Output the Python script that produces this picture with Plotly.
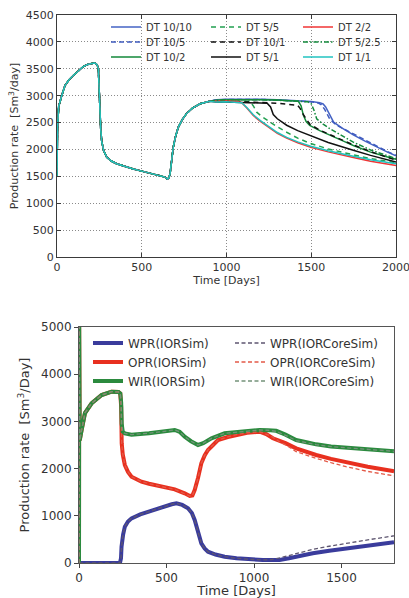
import plotly.graph_objects as go

W, H = 409, 598

# ---------------- Top chart data (time-step sensitivity) ----------------
t_early = [0, 3, 10, 20, 28, 47, 70, 96, 125, 155, 180, 204, 220, 230, 238, 244, 248, 252, 258, 264,
           275, 293, 320, 352, 400, 450, 500, 550, 600, 637, 651, 660, 667, 676, 686, 700, 716, 740,
           765, 800, 844, 900]
v_early = [1500, 2400, 2800, 2950, 3003, 3189, 3290, 3375, 3460, 3542, 3580, 3604, 3608, 3595, 3565,
           3499, 3100, 2700, 2380, 2150, 1980, 1857, 1785, 1734, 1680, 1638, 1597, 1560, 1520, 1486,
           1450, 1470, 1549, 1760, 2043, 2250, 2415, 2560, 2670, 2770, 2849, 2895]

t_dt10_10 = [940, 1000, 1100, 1200, 1300, 1400, 1500, 1550, 1570, 1585, 1600, 1632, 1680, 1748, 1820, 1886, 1950, 2000]
v_dt10_10 = [2925, 2935, 2940, 2935, 2925, 2910, 2890, 2870, 2845, 2790, 2700, 2508, 2400, 2270, 2150, 2043, 1950, 1880]

t_dt10_5 = [940, 1000, 1100, 1200, 1300, 1400, 1500, 1540, 1560, 1580, 1610, 1650, 1748, 1820, 1886, 1950, 2000]
v_dt10_5 = [2920, 2930, 2935, 2930, 2920, 2905, 2885, 2865, 2830, 2740, 2560, 2450, 2290, 2170, 2060, 1960, 1890]

t_dt10_2 = [940, 1000, 1100, 1200, 1300, 1400, 1424, 1440, 1453, 1470, 1491, 1550, 1611, 1700, 1748, 1850, 1950, 2000]
v_dt10_2 = [2915, 2925, 2930, 2925, 2920, 2905, 2895, 2810, 2640, 2520, 2446, 2350, 2260, 2140, 2074, 1950, 1860, 1815]

t_dt5_5 = [940, 1000, 1100, 1140, 1160, 1178, 1210, 1257, 1300, 1355, 1420, 1497, 1600, 1748, 1850, 2000]
v_dt5_5 = [2910, 2915, 2905, 2890, 2800, 2693, 2610, 2510, 2420, 2320, 2210, 2110, 2010, 1900, 1830, 1750]

t_dt10_1 = [940, 1000, 1100, 1200, 1300, 1350, 1420, 1435, 1453, 1491, 1550, 1611, 1700, 1748, 1850, 2000]
v_dt10_1 = [2890, 2890, 2885, 2875, 2860, 2845, 2820, 2760, 2650, 2470, 2360, 2275, 2150, 2085, 1960, 1800]

t_dt5_1 = [940, 1000, 1100, 1200, 1240, 1260, 1276, 1300, 1355, 1420, 1497, 1600, 1748, 1850, 2000]
v_dt5_1 = [2880, 2880, 2875, 2868, 2860, 2790, 2650, 2570, 2450, 2350, 2260, 2130, 1985, 1890, 1765]

t_dt2_2 = [940, 1000, 1060, 1090, 1120, 1158, 1200, 1257, 1300, 1355, 1420, 1497, 1600, 1748, 1850, 2000]
v_dt2_2 = [2900, 2905, 2895, 2870, 2770, 2630, 2520, 2385, 2300, 2210, 2125, 2040, 1955, 1850, 1780, 1700]

t_dt5_25 = [940, 1000, 1100, 1200, 1300, 1400, 1480, 1500, 1515, 1532, 1570, 1611, 1700, 1748, 1850, 2000]
v_dt5_25 = [2915, 2925, 2930, 2925, 2915, 2900, 2885, 2850, 2740, 2570, 2470, 2384, 2220, 2136, 1990, 1830]

t_dt1_1 = [940, 1000, 1060, 1090, 1120, 1158, 1200, 1257, 1300, 1355, 1420, 1497, 1600, 1748, 1850, 2000]
v_dt1_1 = [2880, 2885, 2880, 2870, 2780, 2645, 2535, 2400, 2315, 2225, 2140, 2060, 1975, 1875, 1810, 1735]

top_x_ticks = [0, 500, 1000, 1500, 2000]
top_y_ticks = [0, 500, 1000, 1500, 2000, 2500, 3000, 3500, 4000, 4500]

# ---------------- Bottom chart data (IORSim vs IORCoreSim) ----------------
wir_t = [0, 1, 4, 15, 34, 72, 129, 186, 205, 225, 236, 241, 244, 250, 262, 300, 400, 480, 547, 575,
         604, 640, 680, 710, 757, 832, 900, 960, 1032, 1080, 1127, 1180, 1241, 1300, 1355, 1440, 1526,
         1650, 1793, 1800]
wir_v = [0, 5000, 2600, 2818, 3178, 3383, 3559, 3630, 3635, 3625, 3590, 3400, 2950, 2780, 2747, 2720,
         2750, 2785, 2818, 2780, 2676, 2580, 2500, 2540, 2641, 2747, 2775, 2800, 2818, 2815, 2800, 2720,
         2606, 2560, 2514, 2470, 2443, 2405, 2373, 2370]
wir_core_v = [0, 5000, 2600, 2818, 3178, 3383, 3559, 3630, 3635, 3625, 3590, 3400, 2950, 2780, 2747, 2720,
              2750, 2785, 2818, 2780, 2676, 2580, 2500, 2540, 2641, 2747, 2775, 2800, 2818, 2812, 2790, 2705,
              2595, 2550, 2508, 2466, 2440, 2402, 2370, 2367]

opr_t = [0, 1, 4, 15, 34, 72, 129, 186, 205, 225, 236, 241, 244, 250, 262, 280, 300, 357, 400, 452,
         500, 547, 604, 633, 648, 661, 680, 699, 718, 737, 766, 794, 850, 900, 960, 1032, 1070, 1108,
         1180, 1241, 1300, 1355, 1440, 1526, 1650, 1793, 1800]
opr_v = [0, 5000, 2600, 2818, 3178, 3383, 3559, 3630, 3635, 3625, 3590, 3300, 2536, 2300, 2076, 1930,
         1829, 1723, 1680, 1631, 1595, 1560, 1476, 1419, 1430, 1547, 1800, 2112, 2280, 2394, 2500, 2606,
         2670, 2720, 2760, 2782, 2730, 2642, 2540, 2430, 2355, 2288, 2205, 2133, 2040, 1949, 1945]
opr_core_t = [0, 1, 4, 15, 34, 72, 129, 186, 205, 225, 236, 241, 244, 250, 262, 280, 300, 357, 400, 452,
              500, 547, 604, 633, 648, 661, 680, 699, 718, 737, 766, 794, 850, 900, 960, 1032, 1051,
              1100, 1146, 1200, 1241, 1300, 1355, 1440, 1526, 1650, 1793, 1800]
opr_core_v = [0, 5000, 2600, 2818, 3178, 3383, 3559, 3630, 3635, 3625, 3590, 3300, 2536, 2300, 2076, 1930,
              1829, 1723, 1680, 1631, 1595, 1560, 1476, 1419, 1430, 1547, 1800, 2112, 2280, 2394, 2500,
              2606, 2670, 2720, 2760, 2775, 2760, 2680, 2570, 2460, 2358, 2280, 2218, 2125, 2041, 1940,
              1850, 1846]

wpr_t = [0, 234, 240, 243, 252, 262, 280, 300, 350, 395, 450, 490, 530, 557, 590, 623, 645, 661, 680,
         699, 718, 737, 780, 832, 900, 960, 1051, 1100, 1146, 1200, 1250, 1336, 1430, 1526, 1650, 1793,
         1800]
wpr_v = [0, 0, 100, 346, 600, 770, 880, 946, 1030, 1088, 1150, 1208, 1245, 1264, 1230, 1158, 1060, 911,
         680, 417, 310, 240, 180, 134, 100, 80, 64, 64, 64, 100, 140, 205, 260, 311, 370, 438, 441]
wpr_core_t = [0, 234, 240, 243, 252, 262, 280, 300, 350, 395, 450, 490, 530, 557, 590, 623, 645, 661,
              680, 699, 718, 737, 780, 832, 900, 960, 1051, 1100, 1150, 1241, 1336, 1430, 1526, 1650,
              1793, 1800]
wpr_core_v = [0, 0, 100, 346, 600, 770, 880, 946, 1030, 1088, 1150, 1208, 1245, 1264, 1230, 1158, 1060,
              911, 680, 417, 310, 240, 180, 134, 100, 80, 66, 72, 110, 200, 290, 355, 417, 490, 572, 575]

bot_x_ticks = [0, 500, 1000, 1500]
bot_y_ticks = [0, 1000, 2000, 3000, 4000, 5000]

# ---------------- Figure ----------------
def px2x(px):
    return px / W

def px2y(py):
    return 1 - py / H

fig = go.Figure()

FONT = "DejaVu Sans"

# legend grid (pixel centres of rows, left of entries)
top_cols_px = [106, 206, 298]
top_rows_px = [27, 42, 57]
bot_cols_px = [88, 230]
bot_rows_px = [343, 362, 381]

top_series = [
    # name, t_tail, v_tail, color, dash, column, row
    ("DT 10/10", t_dt10_10, v_dt10_10, "#4563c4", "solid", 0, 0),
    ("DT 10/5", t_dt10_5, v_dt10_5, "#3f5bbf", "5px,3px", 0, 1),
    ("DT 10/2", t_dt10_2, v_dt10_2, "#13893a", "solid", 0, 2),
    ("DT 5/5", t_dt5_5, v_dt5_5, "#22a050", "5px,4px", 1, 0),
    ("DT 10/1", t_dt10_1, v_dt10_1, "#111111", "5px,4px", 1, 1),
    ("DT 5/1", t_dt5_1, v_dt5_1, "#111111", "solid", 1, 2),
    ("DT 2/2", t_dt2_2, v_dt2_2, "#f03535", "solid", 2, 0),
    ("DT 5/2.5", t_dt5_25, v_dt5_25, "#138a3c", "5px,2px,1.5px,2px", 2, 1),
    ("DT 1/1", t_dt1_1, v_dt1_1, "#22c3c0", "solid", 2, 2),
]

leg_common_top = dict(orientation="v", bgcolor="rgba(0,0,0,0)", borderwidth=0,
                      font=dict(family=FONT, size=10, color="#333333"),
                      xanchor="left", yanchor="middle", tracegroupgap=0, itemwidth=30)
leg_common_bot = dict(orientation="v", bgcolor="rgba(0,0,0,0)", borderwidth=0,
                      font=dict(family=FONT, size=12, color="#333333"),
                      xanchor="left", yanchor="middle", tracegroupgap=0, itemwidth=30)

legend_layouts = {}
n_leg = 0
for name, tt, vv, col, dash, c, r in top_series:
    n_leg += 1
    leg = "legend" if n_leg == 1 else f"legend{n_leg}"
    legend_layouts[leg] = dict(x=px2x(top_cols_px[c]), y=px2y(top_rows_px[r]), **leg_common_top)
    fig.add_trace(go.Scatter(
        x=t_early + tt, y=v_early + vv, mode="lines", name=name,
        line=dict(color=col, width=1.5, dash=dash),
        xaxis="x", yaxis="y", legend=leg,
    ))

bot_series = [
    # name, t, v, color, width, dash, column, row
    ("WPR(IORSim)", wpr_t, wpr_v, "#3a3c9c", 4, "solid", 0, 0),
    ("OPR(IORSim)", opr_t, opr_v, "#e8301f", 4, "solid", 0, 1),
    ("WIR(IORSim)", wir_t, wir_v, "#2b8a3e", 4, "solid", 0, 2),
    ("WPR(IORCoreSim)", wpr_core_t, wpr_core_v, "#5e5670", 1.3, "4px,2.5px", 1, 0),
    ("OPR(IORCoreSim)", opr_core_t, opr_core_v, "#e35a48", 1.3, "4px,2.5px", 1, 1),
    ("WIR(IORCoreSim)", wir_t, wir_core_v, "#74927a", 1.3, "4px,2.5px", 1, 2),
]
for name, tt, vv, col, w, dash, c, r in bot_series:
    n_leg += 1
    leg = f"legend{n_leg}"
    legend_layouts[leg] = dict(x=px2x(bot_cols_px[c]), y=px2y(bot_rows_px[r]), **leg_common_bot)
    fig.add_trace(go.Scatter(
        x=tt, y=vv, mode="lines", name=name,
        line=dict(color=col, width=w, dash=dash),
        xaxis="x2", yaxis="y2", legend=leg,
    ))

top_axis_common = dict(
    showgrid=True, gridcolor="#8a8a8a", griddash="1px,2px", gridwidth=1,
    zeroline=False, showline=True, linecolor="#3a3a3a", linewidth=1,
    mirror="allticks", ticks="inside", ticklen=4, tickcolor="#3a3a3a",
    tickfont=dict(family=FONT, size=11, color="#333333"),
    automargin=False, ticklabeloverflow="allow",
)
bot_axis_common = dict(
    showgrid=False, zeroline=False, showline=True, linecolor="#555555", linewidth=1,
    mirror=True, ticks="outside", ticklen=4, tickcolor="#444444",
    tickfont=dict(family=FONT, size=12, color="#333333"),
    automargin=False, ticklabeloverflow="allow",
)

fig.update_layout(
    width=W, height=H,
    margin=dict(l=0, r=0, t=0, b=0),
    paper_bgcolor="white", plot_bgcolor="white",
    font=dict(family=FONT, color="#333333"),
    xaxis=dict(domain=[px2x(57), px2x(396)], anchor="y", range=[0, 2000],
               tickvals=top_x_ticks,
               title=dict(text="Time [Days]", font=dict(family=FONT, size=11, color="#333333"), standoff=0),
               **top_axis_common),
    yaxis=dict(domain=[px2y(257), px2y(15)], anchor="x", range=[0, 4500],
               tickvals=top_y_ticks,
               title=dict(text="Production rate\u00a0 [Sm<sup>3</sup>/day]",
                          font=dict(family=FONT, size=11, color="#333333"), standoff=4),
               **top_axis_common),
    xaxis2=dict(domain=[px2x(79), px2x(394)], anchor="y2", range=[0, 1800],
                tickvals=bot_x_ticks,
                title=dict(text="Time [Days]", font=dict(family=FONT, size=13, color="#333333"), standoff=4),
                **bot_axis_common),
    yaxis2=dict(domain=[px2y(563), px2y(327)], anchor="x2", range=[0, 5000],
                tickvals=bot_y_ticks,
                title=dict(text="Production rate\u00a0 [Sm<sup>3</sup>/Day]",
                           font=dict(family=FONT, size=13, color="#333333"), standoff=8),
                **bot_axis_common),
    showlegend=True,
    **legend_layouts,
)

fig.write_html("out.html", config={"displayModeBar": False},
               post_script="document.body.style.margin='0';document.body.style.overflow='hidden';")
